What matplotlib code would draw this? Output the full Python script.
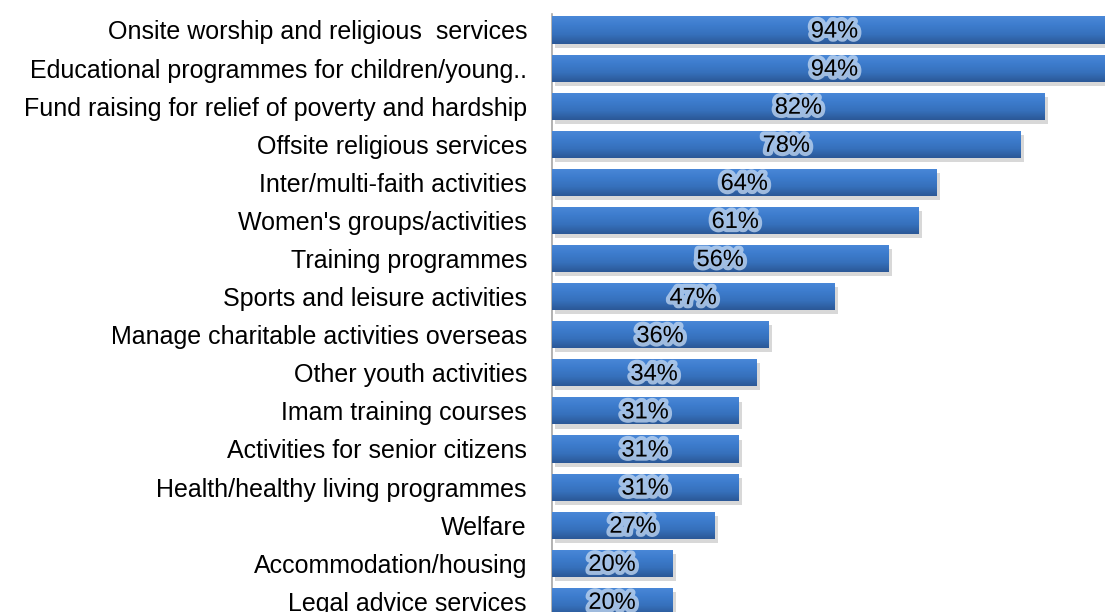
import numpy as np
import matplotlib.pyplot as plt
import matplotlib.patheffects as pe
from matplotlib.colors import LinearSegmentedColormap

plt.rcParams['font.family'] = ['Liberation Sans', 'DejaVu Sans']

# --- datos ---
actividades = [
    "Onsite worship and religious  services",
    "Educational programmes for children/young..",
    "Fund raising for relief of poverty and hardship",
    "Offsite religious services",
    "Inter/multi-faith activities",
    "Women's groups/activities",
    "Training programmes",
    "Sports and leisure activities",
    "Manage charitable activities overseas",
    "Other youth activities",
    "Imam training courses",
    "Activities for senior citizens",
    "Health/healthy living programmes",
    "Welfare",
    "Accommodation/housing",
    "Legal advice services",
]
porcentajes = [94, 94, 82, 78, 64, 61, 56, 47, 36, 34, 31, 31, 31, 27, 20, 20]

W, H = 1105, 612
fig = plt.figure(figsize=(W / 100, H / 100), dpi=100)
ax = fig.add_axes([552 / W, 0, 1 - 552 / W, (H - 14) / H])

y = np.arange(len(actividades))
alto = 0.71
degradado = LinearSegmentedColormap.from_list(
    "barra", ["#2b5897", "#3670bb", "#3d7ccd", "#4a88d8"])

barras = ax.barh(y, porcentajes, height=alto, color="#3a75c4", zorder=2,
                 path_effects=[pe.SimplePatchShadow(offset=(2.5, -3), alpha=0.3,
                                                    shadow_rgbFace="#808080"),
                               pe.Normal()])

# relleno en degradado vertical dentro de cada barra
grad = np.linspace(0, 1, 64).reshape(-1, 1)
for b in barras:
    x0, y0 = b.get_x(), b.get_y()
    im = ax.imshow(grad, cmap=degradado, aspect="auto", origin="lower",
                   extent=(x0, x0 + b.get_width(), y0 + b.get_height(), y0),
                   zorder=3, interpolation="bilinear")
    im.set_clip_path(b)

for yi, v in zip(y, porcentajes):
    ax.text(v / 2, yi + 0.04, f"{v}%", ha="center", va="center", fontsize=17,
            color="black", zorder=5,
            path_effects=[pe.withStroke(linewidth=6, foreground="#c5d9f1", alpha=0.75)])

ax.set_xlim(0, 92)
ax.set_ylim(15.28, -0.42)
ax.set_yticks(y)
ax.set_yticklabels(actividades, fontsize=18)
ax.tick_params(axis="y", length=0, pad=18)
ax.set_xticks([])
for s in ["top", "right", "bottom"]:
    ax.spines[s].set_visible(False)
ax.spines["left"].set_color("#a6a6a6")
ax.spines["left"].set_linewidth(1.2)

fig.savefig("out.png", dpi=100)
